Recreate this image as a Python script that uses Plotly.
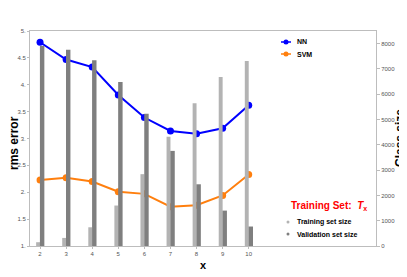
import plotly.graph_objects as go

x_vals = [2, 3, 4, 5, 6, 7, 8, 9, 10]
nn_rms = [4.79, 4.47, 4.33, 3.81, 3.39, 3.14, 3.09, 3.19, 3.62]
svm_rms = [2.23, 2.27, 2.20, 2.01, 1.97, 1.73, 1.76, 1.94, 2.33]
training_size = [150, 320, 740, 1600, 2840, 4320, 5640, 6680, 7310]
validation_size = [7910, 7760, 7340, 6480, 5230, 3760, 2440, 1400, 770]

left_tickvals = [1, 1.5, 2, 2.5, 3, 3.5, 4, 4.5, 5]
left_ticktext = ["1.", "1.5", "2.", "2.5", "3.", "3.5", "4.", "4.5", "5."]
right_tickvals = [0, 1000, 2000, 3000, 4000, 5000, 6000, 7000, 8000]

FONT = "Liberation Sans, Arial, sans-serif"
LIGHT = "#b3b3b3"
DARK = "#7f7f7f"
AXC = "#bdbdbd"
BLUE = "#0000ff"
ORANGE = "#ff7f0e"

# page body has an 8px default margin, so the figure is sized/placed to compensate
OFF = 8
W, H = 407 - OFF, 277 - OFF
L, T = 30 - OFF, 31 - OFF
R = W - (376 - OFF)
B = H - (246 - OFF)
PW, PH = W - L - R, H - T - B


def px(xw):
    return (xw - OFF - L) / PW


def py(yw):
    return 1 - (yw - OFF - T) / PH


fig = go.Figure()

fig.add_trace(go.Bar(x=x_vals, y=training_size, yaxis="y2", offset=-0.15, width=0.15,
                     marker=dict(color=LIGHT, line=dict(width=0)), showlegend=False))
fig.add_trace(go.Bar(x=x_vals, y=validation_size, yaxis="y2", offset=-0.005, width=0.17,
                     marker=dict(color=DARK, line=dict(width=0)), showlegend=False))

fig.add_trace(go.Scatter(x=x_vals, y=nn_rms, name="NN", mode="lines+markers",
                         line=dict(color=BLUE, width=2),
                         marker=dict(color=BLUE, size=7), showlegend=False))
fig.add_trace(go.Scatter(x=x_vals, y=svm_rms, name="SVM", mode="lines+markers",
                         line=dict(color=ORANGE, width=2),
                         marker=dict(color=ORANGE, size=7), showlegend=False))

shapes = []
annotations = []

# line legend (NN, SVM)
for label, color, yp in [("NN", BLUE, 42), ("SVM", ORANGE, 54)]:
    shapes.append(dict(type="line", xref="paper", yref="paper",
                       x0=px(281), x1=px(291), y0=py(yp), y1=py(yp),
                       line=dict(color=color, width=1.5)))
    shapes.append(dict(type="circle", xref="paper", yref="paper",
                       x0=px(283.5), x1=px(288.5), y0=py(yp + 2.5), y1=py(yp - 2.5),
                       fillcolor=color, line=dict(width=0)))
    annotations.append(dict(text="<b>%s</b>" % label, x=px(295), y=py(yp),
                            xref="paper", yref="paper", xanchor="left", yanchor="middle",
                            showarrow=False, font=dict(size=7, color="#000")))

# bar legend
for label, color, yp in [("Training set size", LIGHT, 222), ("Validation set size", DARK, 234)]:
    shapes.append(dict(type="circle", xref="paper", yref="paper",
                       x0=px(286.5), x1=px(289.5), y0=py(yp + 1.5), y1=py(yp - 1.5),
                       fillcolor=color, line=dict(width=0)))
    annotations.append(dict(text="<b>%s</b>" % label, x=px(295), y=py(yp),
                            xref="paper", yref="paper", xanchor="left", yanchor="middle",
                            showarrow=False, font=dict(size=7, color="#000")))

annotations.append(dict(text="<b>Training Set:  <i>T</i><sub>x</sub></b>",
                        x=px(329), y=py(206), xref="paper", yref="paper",
                        xanchor="center", yanchor="middle", showarrow=False,
                        font=dict(size=10, color="#ff0000")))

# axis titles
annotations.append(dict(text="<b>rms error</b>", x=px(14), y=py(143), xref="paper",
                        yref="paper", xanchor="center", yanchor="middle", textangle=-90,
                        showarrow=False, font=dict(size=12, color="#000")))
annotations.append(dict(text="<b>Class size</b>", x=px(400), y=py(138), xref="paper",
                        yref="paper", xanchor="center", yanchor="middle", textangle=-90,
                        showarrow=False, font=dict(size=12, color="#000")))
annotations.append(dict(text="<b>x</b>", x=px(203), y=py(265), xref="paper",
                        yref="paper", xanchor="center", yanchor="middle",
                        showarrow=False, font=dict(size=11, color="#000")))

fig.update_layout(
    width=W, height=H,
    margin=dict(l=L, r=R, t=T, b=B, autoexpand=False),
    paper_bgcolor="white", plot_bgcolor="white",
    font=dict(family=FONT, color="#000"),
    barmode="overlay",
    showlegend=False,
    xaxis=dict(range=[1.615, 14.88], tickvals=x_vals, ticks="outside", ticklen=2,
               tickcolor=AXC, showline=True, linecolor=AXC, linewidth=1, mirror=True,
               showgrid=False, zeroline=False, automargin=False,
               tickfont=dict(size=6, color="#555")),
    yaxis=dict(range=[1, 5], tickvals=left_tickvals, ticktext=left_ticktext,
               ticks="outside", ticklen=2, tickcolor=AXC, showline=True,
               linecolor=AXC, linewidth=1, showgrid=False, zeroline=False,
               automargin=False,
               tickfont=dict(size=6, color="#555")),
    yaxis2=dict(range=[0, 8500], tickvals=right_tickvals, overlaying="y", side="right",
                ticks="outside", ticklen=3, tickcolor=AXC, showline=True,
                linecolor=AXC, linewidth=1, showgrid=False, zeroline=False,
                automargin=False,
                tickfont=dict(size=6, color="#555")),
    shapes=shapes,
    annotations=annotations,
)

fig.write_html("out.html")
